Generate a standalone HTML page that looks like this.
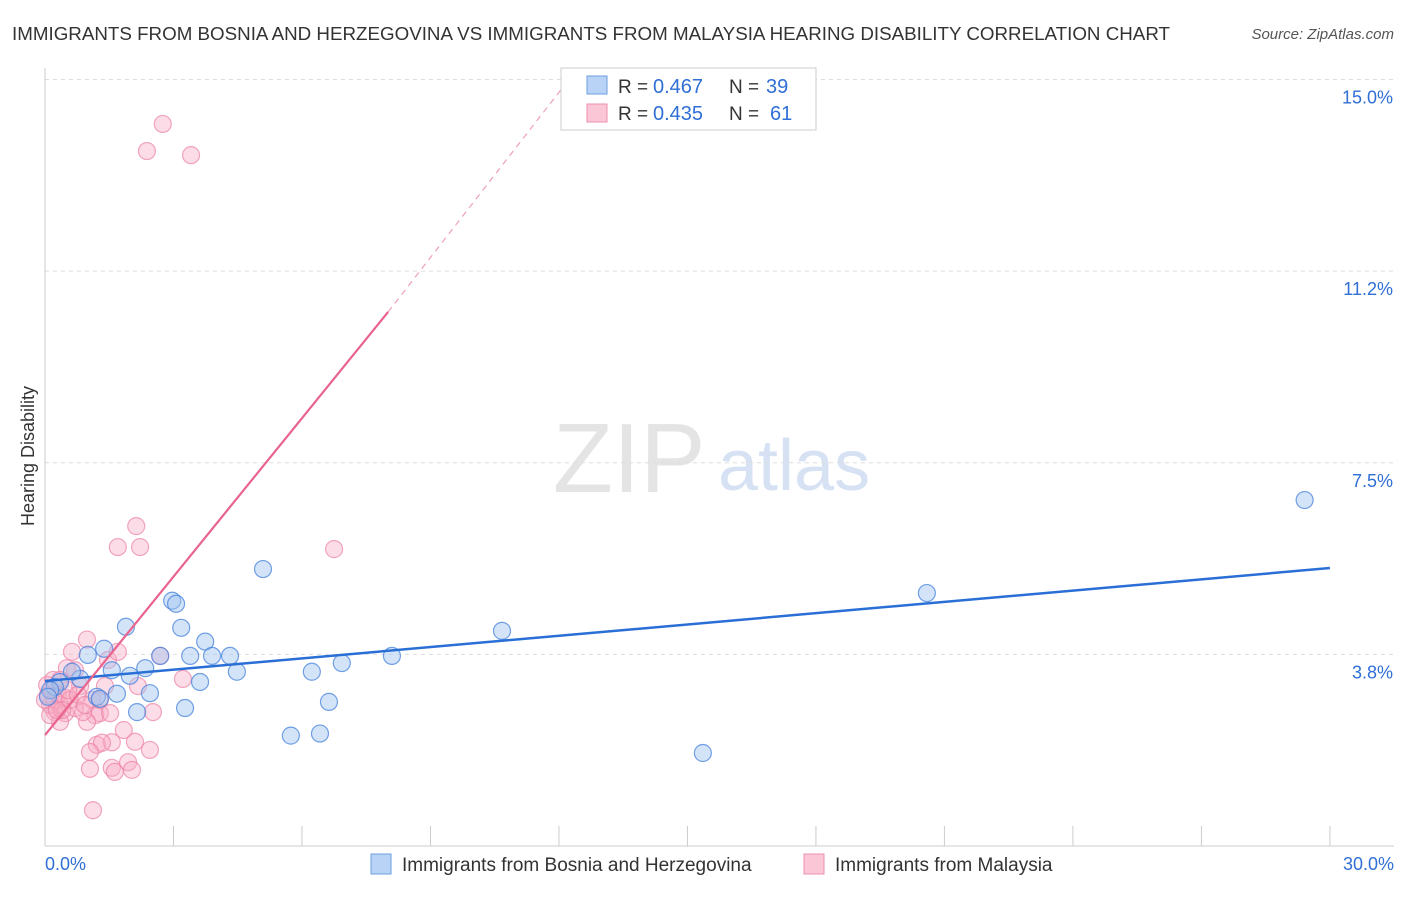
<!DOCTYPE html>
<html><head><meta charset="utf-8"><style>
body{margin:0;background:#fff;font-family:"Liberation Sans",sans-serif}
svg text{font-family:"Liberation Sans",sans-serif}
</style></head><body>
<svg id="c" width="1406" height="892">
<text x="12" y="40" font-size="18" fill="#333" textLength="1158" lengthAdjust="spacingAndGlyphs">IMMIGRANTS FROM BOSNIA AND HERZEGOVINA VS IMMIGRANTS FROM MALAYSIA HEARING DISABILITY CORRELATION CHART</text>
<text x="1394" y="39" font-size="15" fill="#555" font-style="italic" text-anchor="end">Source: ZipAtlas.com</text>
<text x="34" y="456" font-size="18" fill="#333" transform="rotate(-90 34 456)" text-anchor="middle">Hearing Disability</text>
<text x="553" y="492" font-size="98" fill="#e4e4e4" font-family="Liberation Serif">ZIP</text>
<text x="718" y="490" font-size="72" fill="#d6e2f3">atlas</text>
<g id="grid"></g><g id="pts"></g><g id="lines"></g>
<g>
<rect x="561" y="68" width="255" height="62" fill="#fff" stroke="#ccc"/>
<rect x="587" y="76" width="20" height="18" fill="#b8d3f5" stroke="#6c9fe0"/>
<rect x="587" y="104" width="20" height="18" fill="#fbc6d6" stroke="#ec8fae"/>
<text x="618" y="93" font-size="19" fill="#333">R =</text><text x="653" y="93" font-size="20" fill="#2f6fd6">0.467</text>
<text x="729" y="93" font-size="19" fill="#333">N =</text><text x="766" y="93" font-size="20" fill="#2f6fd6">39</text>
<text x="618" y="120" font-size="19" fill="#333">R =</text><text x="653" y="120" font-size="20" fill="#2f6fd6">0.435</text>
<text x="729" y="120" font-size="19" fill="#333">N =</text><text x="770" y="120" font-size="20" fill="#2f6fd6">61</text>
</g>
<g>
<rect x="371" y="854" width="20" height="20" fill="#b8d3f5" stroke="#6c9fe0"/>
<text x="402" y="871" font-size="19" fill="#333">Immigrants from Bosnia and Herzegovina</text>
<rect x="804" y="854" width="20" height="20" fill="#fbc6d6" stroke="#ec8fae"/>
<text x="835" y="871" font-size="19" fill="#333">Immigrants from Malaysia</text>
</g>
</svg>
<script>
const yTicks=[3.75,7.5,11.25,15];
const yTickLabels=["3.8%","7.5%","11.2%","15.0%"];
const xTickLabels=["0.0%","30.0%"];
const blueX=[29.41,20.59,10.67,15.36,8.1,6.93,6.23,6.63,5.09,5.74,6.42,2.97,3.06,3.18,3.74,3.39,3.9,4.32,4.48,3.62,3.27,2.69,2.34,2.45,1.89,1.38,1.56,1.98,1.68,2.15,1.21,1.0,0.82,0.63,0.35,0.23,0.12,0.07,1.28];
const blueY=[6.77,4.95,4.21,1.82,3.72,3.58,3.41,2.82,5.42,2.16,2.2,4.8,4.74,4.27,4.0,3.72,3.72,3.72,3.41,3.21,2.7,3.72,3.48,2.99,4.29,3.86,3.44,3.33,2.98,2.62,2.92,3.74,3.27,3.41,3.21,3.11,3.05,2.92,2.88];
const pinkX=[2.75,2.38,3.41,2.13,1.7,2.22,6.75,0.98,0.63,2.69,1.47,1.7,0.51,0.7,0.82,1.4,2.17,3.22,1.1,0.35,0.23,0.47,0.7,1.28,1.17,0.98,0.35,0.12,0.07,0.16,2.52,1.84,1.56,1.21,1.33,2.1,2.45,1.05,1.56,1.94,2.03,1.05,1.63,1.12,0.23,0.3,0.47,0.58,0,0.12,0.4,0.89,0.54,0.77,0.93,1.52,1.28,0.05,0.19,0.35,0.28];
const pinkY=[14.13,13.6,13.52,6.26,5.85,5.85,5.81,4.04,3.8,3.72,3.64,3.8,3.48,3.44,3.13,3.13,3.13,3.27,2.86,2.76,2.62,2.6,2.7,2.6,2.56,2.43,2.43,2.76,2.96,3.05,2.62,2.27,2.03,1.98,2.02,2.04,1.88,1.84,1.53,1.64,1.49,1.51,1.45,0.7,2.86,2.96,2.9,2.86,2.86,2.56,2.66,2.62,3.05,2.96,2.76,2.6,2.86,3.15,3.25,3.25,2.66];
const blueLine=[[0,3.23],[30,5.44]];
const pinkSolid=[[0,2.17],[8.01,10.45]];
const pinkDash=[[8.01,10.45],[12.14,14.9]];
const NS="http://www.w3.org/2000/svg";
const X=v=>45+v*42.83, Y=v=>846-v*51.1;
function el(t,a,p){const e=document.createElementNS(NS,t);for(const k in a)e.setAttribute(k,a[k]);p.appendChild(e);return e;}
const g=document.getElementById('grid');
yTicks.forEach((t,i)=>{
 const l=el('line',{x1:45,x2:1394,y1:Y(t),y2:Y(t),stroke:'#ddd','stroke-dasharray':'4,4'},g);
 
 
 const tx=el('text',{x:1393,y:Y(t)+24,'font-size':18,fill:'#2f6fd6','text-anchor':'end'},g);
 tx.textContent=yTickLabels[i];
 
 
});
el('line',{x1:45,x2:1394,y1:846,y2:846,stroke:'#ccc'},g);
el('line',{x1:45,x2:45,y1:68,y2:846,stroke:'#ccc'},g);
for(let i=1;i<=10;i++){const tk=el('line',{x1:X(i*3),x2:X(i*3),y1:826,y2:846,stroke:'#ccc'},g);
 
 }
[[45,'start',0],[1394,'end',1]].forEach(([x,a,i])=>{const t=el('text',{x:x,y:870,'font-size':18,fill:'#2f6fd6','text-anchor':a},g);t.textContent=xTickLabels[i];
 
 });
const p=document.getElementById('pts');
pinkX.forEach((x,i)=>{const c=el('circle',{cx:X(x),cy:Y(pinkY[i]),r:8.5,fill:'rgba(248,170,195,0.4)',stroke:'rgba(236,130,165,0.7)','stroke-width':1.2},p);
 
 });
blueX.forEach((x,i)=>{const c=el('circle',{cx:X(x),cy:Y(blueY[i]),r:8.5,fill:'rgba(160,195,240,0.45)',stroke:'rgba(70,130,220,0.75)','stroke-width':1.2},p);
 
 });
const L=document.getElementById('lines');
function ln(s,st,w,d,n){const e=el('line',{x1:X(s[0][0]),y1:Y(s[0][1]),x2:X(s[1][0]),y2:Y(s[1][1]),stroke:st,'stroke-width':w},L);if(d)e.setAttribute('stroke-dasharray',d);
 
 }
ln(blueLine,'#2a6fd6',2.5,null,'trendline-bosnia');
ln(pinkSolid,'#e8648e',2.2,null,'trendline-malaysia');
ln(pinkDash,'#eea0b8',1.2,'6,5','trendline-malaysia-extension');
</script>
</body></html>
